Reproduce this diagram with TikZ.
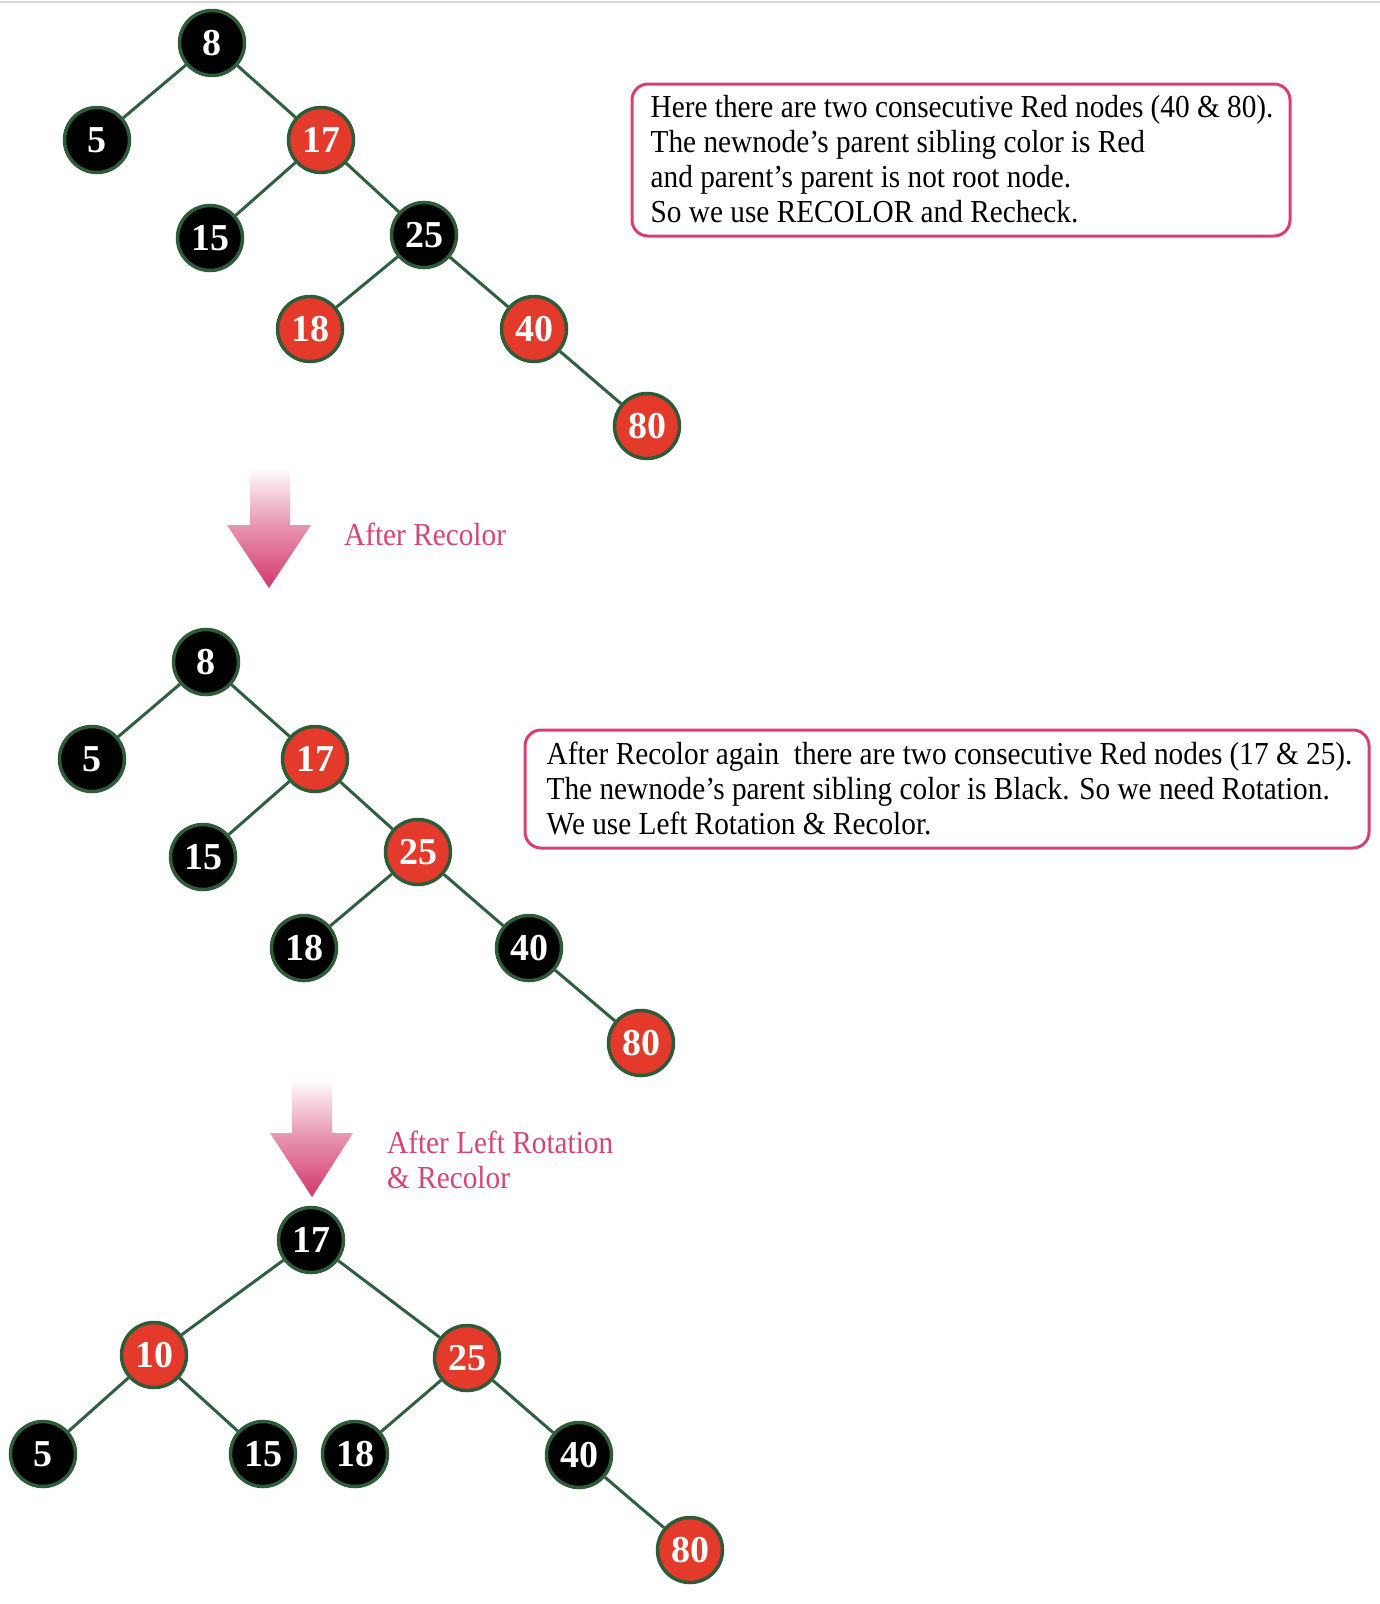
\documentclass[tikz,border=0pt]{standalone}
\usepackage{fontspec}
\setmainfont{Liberation Serif}
\newfontfamily\notefont[FakeStretch=0.915]{Liberation Serif}
\definecolor{nodered}{HTML}{E43A2B}
\definecolor{nodegreen}{HTML}{2E5B38}
\definecolor{edgegreen}{HTML}{2F6040}
\definecolor{boxpink}{HTML}{D9406F}
\definecolor{lblpink}{HTML}{D84474}
\definecolor{arrowpink}{HTML}{D3386A}
\begin{document}
\begin{tikzpicture}[x=1pt,y=-1pt,
  rbnode/.style={circle, minimum size=65pt, inner sep=0pt, line width=3.5pt, draw=nodegreen, text=white, font=\fontsize{38}{38}\selectfont\bfseries},
  blk/.style={rbnode, fill=black},
  rd/.style={rbnode, fill=nodered},
  edge/.style={line width=3pt, draw=edgegreen},
  infobox/.style={draw=boxpink, line width=3pt, rounded corners=16pt, inner sep=0pt},
  infotext/.style={font=\notefont\fontsize{32}{35}\selectfont, align=left, anchor=west, inner sep=0pt},
  lbl/.style={text=lblpink, font=\notefont\fontsize{32}{35}\selectfont, anchor=base west, inner sep=0pt},
  downarrow/.style={top color=white, bottom color=arrowpink, middle color=arrowpink!55}
]
\useasboundingbox (0,0) rectangle (1380,1604);
\fill[white] (0,0) rectangle (1380,1604);
\draw[black!15, line width=2pt] (0,1.5) -- (1380,1.5);

% ---------- Tree 1 ----------
\node[blk] (a8)  at (212,43)  {8};
\node[blk] (a5)  at (97,140)  {5};
\node[rd]  (a17) at (321,140) {17};
\node[blk] (a15) at (210,238) {15};
\node[blk] (a25) at (424,235) {25};
\node[rd]  (a18) at (310,329) {18};
\node[rd]  (a40) at (534,329) {40};
\node[rd]  (a80) at (647,426) {80};
\draw[edge] (a8) -- (a5);
\draw[edge] (a8) -- (a17);
\draw[edge] (a17) -- (a15);
\draw[edge] (a17) -- (a25);
\draw[edge] (a25) -- (a18);
\draw[edge] (a25) -- (a40);
\draw[edge] (a40) -- (a80);

\node[infobox, minimum width=658pt, minimum height=152pt] (box1) at (961,160) {};
\node[infotext] (text1) at ([xshift=20pt,yshift=1pt]box1.west) {Here there are two consecutive Red nodes (40 \& 80).\\The newnode’s parent sibling color is Red\\and parent’s parent is not root node.\\So we use RECOLOR and Recheck.};

% ---------- Arrow 1 ----------
\shade[downarrow] (250,467) -- (290,467) -- (290,525) -- (311,525) -- (269,588) -- (227,525) -- (250,525) -- cycle;
\node[lbl] (lbl1) at (344,545) {After Recolor};

% ---------- Tree 2 ----------
\node[blk] (b8)  at (206,662)  {8};
\node[blk] (b5)  at (92,759)   {5};
\node[rd]  (b17) at (315,759)  {17};
\node[blk] (b15) at (203,857)  {15};
\node[rd]  (b25) at (418,852)  {25};
\node[blk] (b18) at (304,948)  {18};
\node[blk] (b40) at (529,948)  {40};
\node[rd]  (b80) at (641,1043) {80};
\draw[edge] (b8) -- (b5);
\draw[edge] (b8) -- (b17);
\draw[edge] (b17) -- (b15);
\draw[edge] (b17) -- (b25);
\draw[edge] (b25) -- (b18);
\draw[edge] (b25) -- (b40);
\draw[edge] (b40) -- (b80);

\node[infobox, minimum width=844pt, minimum height=118pt] (box2) at (947,789) {};
\node[infotext] (text2) at ([xshift=23pt,yshift=1pt]box2.west) {After Recolor again~ there are two consecutive Red nodes (17 \& 25).\\The newnode’s parent sibling color is Black. So we need Rotation.\\We use Left Rotation \& Recolor.};

% ---------- Arrow 2 ----------
\shade[downarrow] (292,1079) -- (332,1079) -- (332,1133) -- (353,1133) -- (312,1197) -- (270,1133) -- (292,1133) -- cycle;
\node[lbl] (lbl2a) at (387,1153) {After Left Rotation};
\node[lbl] (lbl2b) at (387,1188) {\& Recolor};

% ---------- Tree 3 ----------
\node[blk] (c17) at (311,1240) {17};
\node[rd]  (c10) at (154,1355) {10};
\node[rd]  (c25) at (467,1358) {25};
\node[blk] (c5)  at (43,1454)  {5};
\node[blk] (c15) at (263,1454) {15};
\node[blk] (c18) at (355,1454) {18};
\node[blk] (c40) at (579,1455) {40};
\node[rd]  (c80) at (690,1550) {80};
\draw[edge] (c17) -- (c10);
\draw[edge] (c17) -- (c25);
\draw[edge] (c10) -- (c5);
\draw[edge] (c10) -- (c15);
\draw[edge] (c25) -- (c18);
\draw[edge] (c25) -- (c40);
\draw[edge] (c40) -- (c80);
\end{tikzpicture}
\end{document}
